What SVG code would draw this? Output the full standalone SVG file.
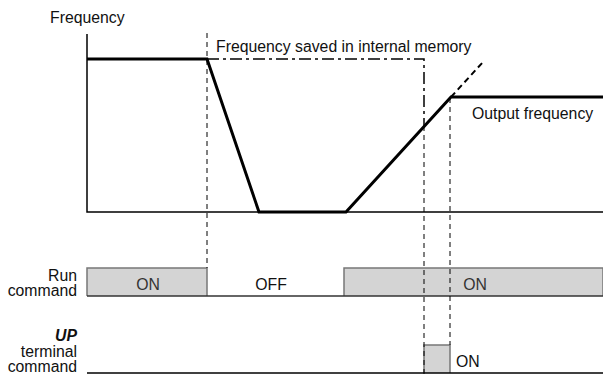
<svg xmlns="http://www.w3.org/2000/svg" width="603" height="378" viewBox="0 0 603 378">
<style>
text{font-family:"Liberation Sans",Arial,sans-serif;font-size:15.8px;fill:#111}
.r{text-anchor:end}
.m{text-anchor:middle}
.g{fill:#333}
.ax{stroke:#000;stroke-width:1.5;fill:none}
.thick{stroke:#000;stroke-width:3;fill:none;stroke-linejoin:miter}
.dash{stroke:#000;stroke-width:1;stroke-dasharray:5,4;fill:none}
.dd{stroke:#000;stroke-width:1.5;stroke-dasharray:12,4,3,4;fill:none}
.sig{fill:#d4d4d4;stroke:#777;stroke-width:1.5}
</style>
<rect width="603" height="378" fill="#fff"/>
<g id="labels">
<text x="50" y="23">Frequency</text>
<text x="216" y="52">Frequency saved in internal memory</text>
<text x="472" y="119">Output frequency</text>
<text class="r" x="77" y="281">Run</text>
<text class="r" x="77" y="296">command</text>
<text class="r" x="77" y="341" font-weight="bold" font-style="italic">UP</text>
<text class="r" x="77" y="357">terminal</text>
<text class="r" x="77" y="372">command</text>
</g>
<g id="run-signal">
<path class="sig" d="M87,296 V268 H207 V296"/>
<path class="sig" d="M344,296 V268 H603 V296"/>
<line x1="87" y1="296" x2="603" y2="296" stroke="#333" stroke-width="1.5"/>
<text class="m g" x="148" y="290">ON</text>
<text class="m" x="271" y="290">OFF</text>
<text class="m g" x="475" y="290">ON</text>
</g>
<g id="up-signal">
<path class="sig" d="M424,373 V345 H450 V373"/>
<line class="ax" x1="87" y1="373" x2="603" y2="373"/>
<text x="456" y="367">ON</text>
</g>
<g id="connectors">
<path class="ax" d="M87,34 V212 H603"/>
<line class="dash" x1="207" y1="33" x2="207" y2="268"/>
<line class="dash" x1="424" y1="126" x2="424" y2="378"/>
<line class="dash" x1="450" y1="98" x2="450" y2="345"/>
<path class="dd" d="M207,59 H424 V126"/>
<line stroke="#000" stroke-width="2" stroke-dasharray="6,4" x1="451" y1="97" x2="483" y2="62"/>
<path class="thick" d="M87,59 H207 L259,212 H346 L451,97 H603"/>
</g>
</svg>
